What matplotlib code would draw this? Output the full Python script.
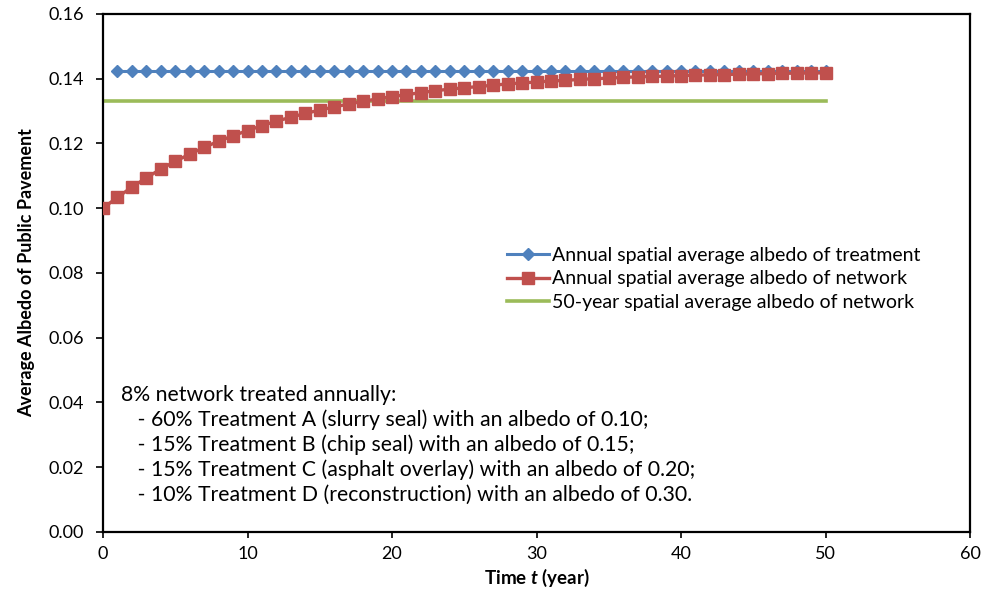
import numpy as np
import matplotlib
matplotlib.use("Agg")
import matplotlib.pyplot as plt

plt.rcParams['font.family'] = ['Lato', 'DejaVu Sans']
plt.rcParams['mathtext.fontset'] = 'custom'
plt.rcParams['mathtext.it'] = 'Lato:italic:bold'
plt.rcParams['mathtext.rm'] = 'Lato:bold'

# datos
years_treat = list(range(1, 51))
albedo_treat = [0.1425] * 50

years_net = list(range(0, 51))
albedo_net = [0.1000, 0.1034, 0.1065, 0.1094, 0.1121, 0.1145, 0.1167, 0.1188, 0.1207, 0.1224,
              0.1240, 0.1255, 0.1269, 0.1281, 0.1293, 0.1303, 0.1313, 0.1322, 0.1330, 0.1338,
              0.1345, 0.1351, 0.1357, 0.1363, 0.1368, 0.1372, 0.1376, 0.1380, 0.1384, 0.1387,
              0.1390, 0.1393, 0.1395, 0.1398, 0.1400, 0.1402, 0.1404, 0.1406, 0.1407, 0.1408,
              0.1410, 0.1411, 0.1412, 0.1413, 0.1414, 0.1415, 0.1416, 0.1417, 0.1417, 0.1418,
              0.1418]

years_avg = [0, 50]
albedo_avg = [0.133, 0.133]

labels = ['Annual spatial average albedo of treatment',
          'Annual spatial average albedo of network',
          '50-year spatial average albedo of network']

note_lines = ['8% network treated annually:',
              '   - 60% Treatment A (slurry seal) with an albedo of 0.10;',
              '   - 15% Treatment B (chip seal) with an albedo of 0.15;',
              '   - 15% Treatment C (asphalt overlay) with an albedo of 0.20;',
              '   - 10% Treatment D (reconstruction) with an albedo of 0.30.']

fig = plt.figure(figsize=(9.82, 5.98), dpi=100)
ax = fig.add_axes([0.1049, 0.1104, 0.8829, 0.8662])

ax.plot(years_treat, albedo_treat, color='#4F81BD', lw=2.2, marker='D', ms=6.5,
        label=labels[0], zorder=3)
ax.plot(years_net, albedo_net, color='#C0504D', lw=2.4, marker='s', ms=8.5,
        label=labels[1], zorder=4)
ax.plot(years_avg, albedo_avg, color='#9BBB59', lw=2.6, label=labels[2], zorder=2)

ax.set_xlim(0, 60)
ax.set_ylim(0, 0.16)
ax.set_xticks(np.arange(0, 61, 10))
ax.set_yticks(np.arange(0, 0.161, 0.02))
ax.yaxis.set_major_formatter(matplotlib.ticker.FormatStrFormatter('%.2f'))
ax.tick_params(labelsize=13, direction='out', length=5, width=1.2, color='black')
ax.tick_params(axis='y', pad=9)
ax.tick_params(axis='x', pad=6, length=4)
for s in ax.spines.values():
    s.set_linewidth(1.6)

ax.set_xlabel(r'Time $\mathit{t}$ (year)', fontsize=13.5, fontweight='bold', labelpad=4)
ax.set_ylabel('Average Albedo of Public Pavement', fontsize=13, fontweight='bold', labelpad=9)

ax.legend(loc='center left', bbox_to_anchor=(0.4656, 0.4884), frameon=False, fontsize=14,
          handlelength=2.2, handletextpad=0.15, labelspacing=0.32, borderaxespad=0,
          borderpad=0)

# bloque de texto con la composicion de tratamientos
for i, line in enumerate(note_lines):
    ax.text(0.021, 0.2645 - i * 0.0483, line, transform=ax.transAxes, fontsize=15.3,
            va='center', ha='left')

fig.savefig('out.png', dpi=100, facecolor='white')
